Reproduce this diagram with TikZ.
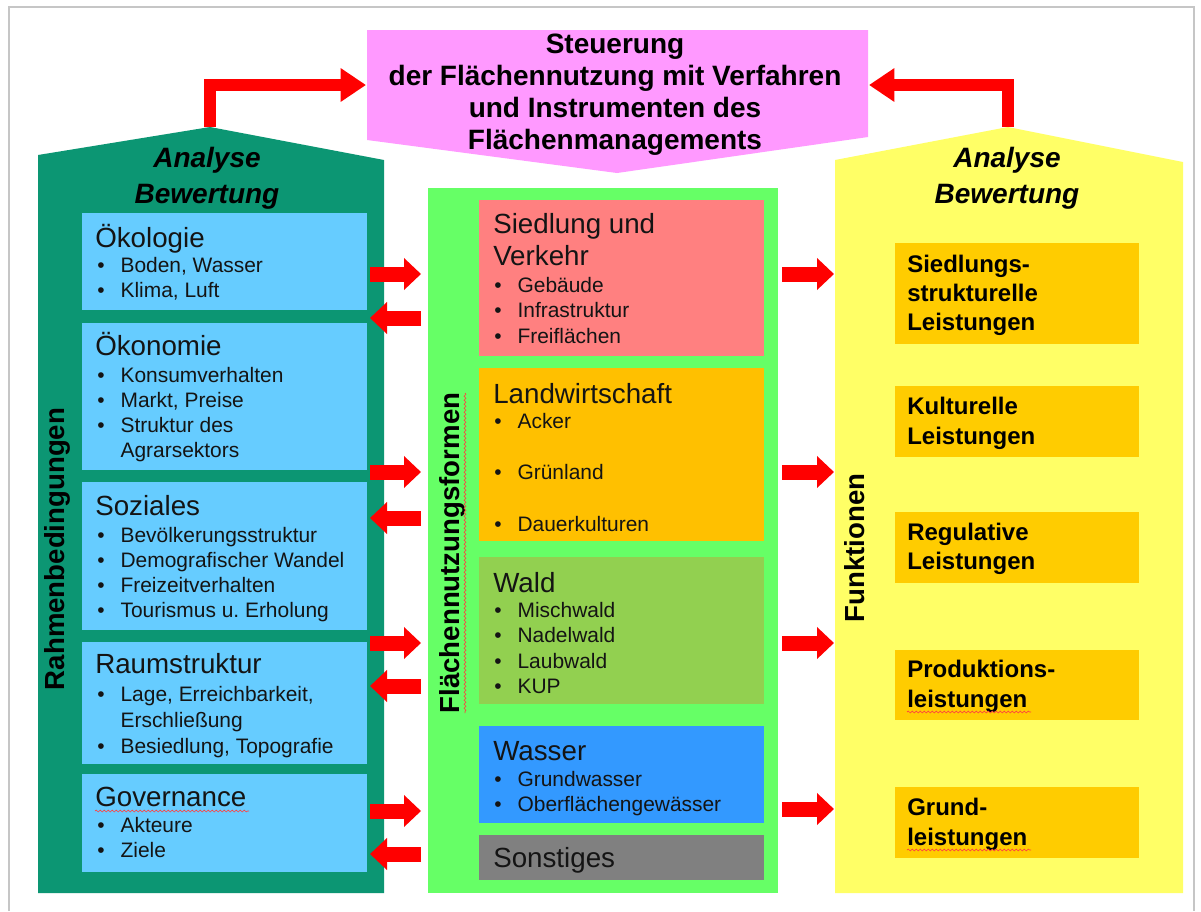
\documentclass[tikz,border=0pt]{standalone}
\usepackage{fontspec}
\setmainfont{Liberation Sans}
\frenchspacing
\usetikzlibrary{arrows.meta,fit,decorations.pathmorphing}
\definecolor{tealc}{RGB}{12,150,115}
\definecolor{lblue}{RGB}{102,204,255}
\definecolor{midgreen}{RGB}{102,255,102}
\definecolor{salmon}{RGB}{255,128,128}
\definecolor{agri}{RGB}{255,192,0}
\definecolor{forest}{RGB}{146,208,80}
\definecolor{water}{RGB}{51,153,255}
\definecolor{other}{RGB}{128,128,128}
\definecolor{yell}{RGB}{255,255,102}
\definecolor{orng}{RGB}{255,204,0}
\definecolor{pinkc}{RGB}{255,153,255}
\definecolor{redc}{RGB}{255,0,0}
\newcommand\bitem[1]{\makebox[17.5pt][l]{\textbullet}#1}
\newcommand\citem[1]{\hspace*{17.5pt}#1}
\newcommand\txtlines[7]{%
  \foreach \itx [count=\i] in {#7}{\node[#5, anchor=#6] (#1-\i) at ({#2},{#3+(\i-1)*#4}) {\itx};}}
\tikzset{
  box/.style={inner sep=0pt, outer sep=0pt, draw=none},
  head/.style={font=\fontsize{20.8}{24}\selectfont, inner sep=0pt, text=black!92},
  itm/.style={font=\fontsize{15.7}{19}\selectfont, inner sep=0pt, text=black!92},
  ttl/.style={font=\fontsize{21}{24}\selectfont\bfseries, inner sep=0pt},
  ana/.style={font=\fontsize{21}{24}\selectfont\bfseries\itshape, inner sep=0pt},
  lbl/.style={font=\fontsize{18}{22}\selectfont\bfseries, inner sep=0pt},
  vlab/.style={font=\fontsize{20.7}{24}\selectfont\bfseries, inner sep=0pt, rotate=90},
  rarr/.style={draw=redc, line width=11.25pt, -{Triangle[width=23.25pt 0 0,length=12.75pt 0 0]}},
  toparr/.style={draw=redc, line width=9pt, line join=miter, -{Triangle[width=24pt 0 0,length=19pt 0 0]}},
  wavy/.style={draw=red!75, line width=0.5pt, decorate, decoration={snake, amplitude=0.7pt, segment length=3pt}},
}
\begin{document}
\begin{tikzpicture}[x=0.75pt, y=-0.75pt]
\useasboundingbox (0,0) rectangle (1201,911);
\fill[white] (0,0) rectangle (1201,911);
% frame
\draw[gray!45, line width=0.8pt] (9,911) -- (9,7) -- (1194,7) -- (1194,911);

% houses
\fill[tealc] (38,893) -- (38,155) -- (210,127) -- (384,160) -- (384,893) -- cycle;
\fill[yell] (835,893) -- (835,160) -- (1008,127) -- (1183,162) -- (1183,893) -- cycle;
\coordinate (lpeak) at (210,127);
\coordinate (rpeak) at (1008,127);
\node[box, fit={(38,160) (384,893)}] (lhouse) {};
\node[box, fit={(835,162) (1183,893)}] (rhouse) {};

% pink steering box
\fill[pinkc] (367,30) -- (868,30) -- (868,137) -- (617,173) -- (367,140) -- cycle;
\coordinate (pinkW) at (366,85);
\coordinate (pinkE) at (869,85);

% left blue boxes
\node[box, fill=lblue, fit={(82,213) (367,310)}] (lb1) {};
\node[box, fill=lblue, fit={(82,323) (367,470)}] (lb2) {};
\node[box, fill=lblue, fit={(82,482) (367,630)}] (lb3) {};
\node[box, fill=lblue, fit={(82,642) (367,764)}] (lb4) {};
\node[box, fill=lblue, fit={(82,774) (367,872)}] (lb5) {};

% middle column
\node[box, fill=midgreen, fit={(428,188) (778,893)}] (mid) {};
\node[box, fill=salmon, fit={(479,200) (764,356)}] (mb1) {};
\node[box, fill=agri, fit={(479,368) (764,541)}] (mb2) {};
\node[box, fill=forest, fit={(479,557) (764,704)}] (mb3) {};
\node[box, fill=water, fit={(479,726) (764,823)}] (mb4) {};
\node[box, fill=other, fit={(479,835) (764,880)}] (mb5) {};

% right orange boxes
\node[box, fill=orng, fit={(895,243) (1139,344)}] (rb1) {};
\node[box, fill=orng, fit={(895,386) (1139,457)}] (rb2) {};
\node[box, fill=orng, fit={(895,512) (1139,583)}] (rb3) {};
\node[box, fill=orng, fit={(895,650) (1139,720)}] (rb4) {};
\node[box, fill=orng, fit={(895,787) (1139,858)}] (rb5) {};

% top arrows
\draw[toparr] (lpeak) |- (pinkW);
\draw[toparr] (rpeak) |- (pinkE);

% arrows left <-> middle
\draw[rarr, shorten <=2.25pt, shorten >=5.25pt] (lb1.east |- 0,274) -- (mid.west |- 0,274);
\draw[rarr, shorten <=2.25pt, shorten >=5.25pt] (lb2.east |- 0,472) -- (mid.west |- 0,472);
\draw[rarr, shorten <=2.25pt, shorten >=5.25pt] (lb4.east |- 0,643) -- (mid.west |- 0,643);
\draw[rarr, shorten <=2.25pt, shorten >=5.25pt] (lb5.east |- 0,811) -- (mid.west |- 0,811);
\draw[rarr, shorten <=5.25pt, shorten >=2.25pt] (mid.west |- 0,318) -- (lb1.east |- 0,318);
\draw[rarr, shorten <=5.25pt, shorten >=2.25pt] (mid.west |- 0,518) -- (lb3.east |- 0,518);
\draw[rarr, shorten <=5.25pt, shorten >=2.25pt] (mid.west |- 0,686) -- (lb4.east |- 0,686);
\draw[rarr, shorten <=5.25pt, shorten >=2.25pt] (mid.west |- 0,854) -- (lb5.east |- 0,854);
% arrows middle -> right
\draw[rarr, shorten <=3pt, shorten >=0.75pt] (mid.east |- 0,274) -- (rhouse.west |- 0,274);
\draw[rarr, shorten <=3pt, shorten >=0.75pt] (mid.east |- 0,472) -- (rhouse.west |- 0,472);
\draw[rarr, shorten <=3pt, shorten >=0.75pt] (mid.east |- 0,643) -- (rhouse.west |- 0,643);
\draw[rarr, shorten <=3pt, shorten >=0.75pt] (mid.east |- 0,809) -- (rhouse.west |- 0,809);

% titles
\txtlines{st}{615}{53}{32}{ttl}{base}{Steuerung,der Flächennutzung mit Verfahren,und Instrumenten des,Flächenmanagements}
\txtlines{la}{207}{167}{36}{ana}{base}{Analyse,Bewertung}
\txtlines{ra}{1007}{167}{36}{ana}{base}{Analyse,Bewertung}

% vertical labels
\node[vlab] (rahmen) at (57,549) {Rahmenbedingungen};
\node[vlab] (flform) at (452,553) {Flächennutzungsformen};
\node[vlab] (funkt) at (855,548) {Funktionen};

% left texts
\node[head, anchor=base west] (h1) at (95,247) {Ökologie};
\txtlines{i1}{97}{272}{25}{itm}{base west}{{\bitem{Boden, Wasser}},{\bitem{Klima, Luft}}}
\node[head, anchor=base west] (h2) at (95,355) {Ökonomie};
\txtlines{i2}{97}{382}{25.3}{itm}{base west}{{\bitem{Konsumverhalten}},{\bitem{Markt, Preise}},{\bitem{Struktur des}},{\citem{Agrarsektors}}}
\node[head, anchor=base west] (h3) at (95,515) {Soziales};
\txtlines{i3}{97}{542}{25.3}{itm}{base west}{{\bitem{Bevölkerungsstruktur}},{\bitem{Demografischer Wandel}},{\bitem{Freizeitverhalten}},{\bitem{Tourismus u. Erholung}}}
\node[head, anchor=base west] (h4) at (95,673) {Raumstruktur};
\txtlines{i4}{97}{701}{26}{itm}{base west}{{\bitem{Lage, Erreichbarkeit,}},{\citem{Erschließung}},{\bitem{Besiedlung, Topografie}}}
\node[head, anchor=base west] (h5) at (95,806) {Governance};
\txtlines{i5}{97}{832}{25.5}{itm}{base west}{{\bitem{Akteure}},{\bitem{Ziele}}}

% middle texts
\txtlines{m1h}{493}{233}{32}{head}{base west}{Siedlung und,Verkehr}
\txtlines{m1}{494}{292}{25.5}{itm}{base west}{{\bitem{Gebäude}},{\bitem{Infrastruktur}},{\bitem{Freiflächen}}}
\node[head, anchor=base west] (m2h) at (493,403) {Landwirtschaft};
\txtlines{m2}{494}{428}{51.5}{itm}{base west}{{\bitem{Acker}},{\bitem{Grünland}},{\bitem{Dauerkulturen}}}
\node[head, anchor=base west] (m3h) at (493,592) {Wald};
\txtlines{m3}{494}{617}{25.6}{itm}{base west}{{\bitem{Mischwald}},{\bitem{Nadelwald}},{\bitem{Laubwald}},{\bitem{KUP}}}
\node[head, anchor=base west] (m4h) at (493,760) {Wasser};
\txtlines{m4}{494}{786}{25}{itm}{base west}{{\bitem{Grundwasser}},{\bitem{Oberflächengewässer}}}
\node[head, anchor=base west] (m5h) at (493,867) {Sonstiges};

% right texts
\txtlines{r1}{907}{272}{29}{lbl}{base west}{Siedlungs-,strukturelle,Leistungen}
\txtlines{r2}{907}{414}{30}{lbl}{base west}{Kulturelle,Leistungen}
\txtlines{r3}{907}{540}{29}{lbl}{base west}{Regulative,Leistungen}
\txtlines{r4}{907}{677}{30}{lbl}{base west}{Produktions-,leistungen}
\txtlines{r5}{907}{815}{30}{lbl}{base west}{Grund-,leistungen}

% spell-check underlines
\draw[wavy] (h5.base west) ++(0,5) -- ++(154,0);
\draw[wavy] (465,393) -- (465,713);
\draw[wavy] (r4-2.base west) ++(0,5) -- ++(124,0);
\draw[wavy] (r5-2.base west) ++(0,5) -- ++(124,0);
\end{tikzpicture}
\end{document}
